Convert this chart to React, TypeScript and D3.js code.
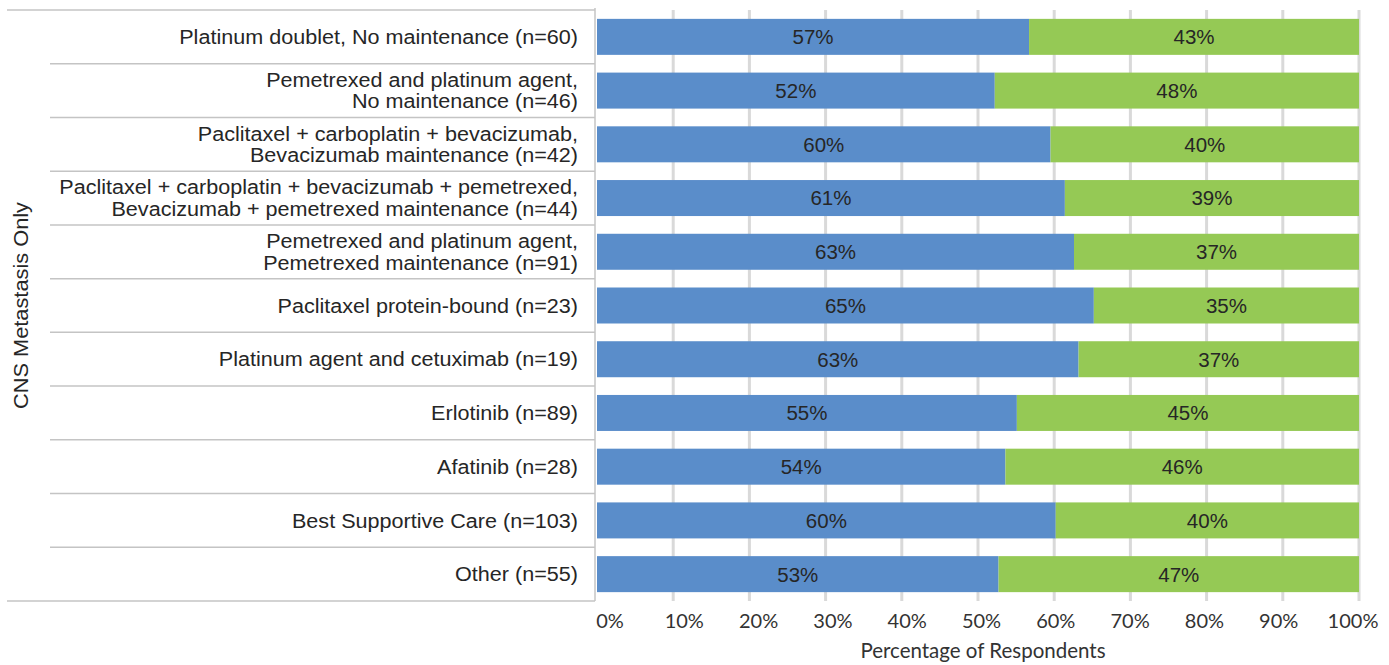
import React from "react";
import * as d3 from "d3";

const categories: string[][] = [
  ["Platinum doublet, No maintenance (n=60)"],
  ["Pemetrexed and platinum agent,", "No maintenance (n=46)"],
  ["Paclitaxel + carboplatin + bevacizumab,", "Bevacizumab maintenance (n=42)"],
  ["Paclitaxel + carboplatin + bevacizumab + pemetrexed,", "Bevacizumab + pemetrexed maintenance (n=44)"],
  ["Pemetrexed and platinum agent,", "Pemetrexed maintenance (n=91)"],
  ["Paclitaxel protein-bound (n=23)"],
  ["Platinum agent and cetuximab (n=19)"],
  ["Erlotinib (n=89)"],
  ["Afatinib (n=28)"],
  ["Best Supportive Care (n=103)"],
  ["Other (n=55)"],
];
const blueValues = [56.7, 52.2, 59.52, 61.4, 62.6, 65.2, 63.2, 55.1, 53.6, 60.2, 52.7];
const greenValues = [43.3, 47.8, 40.48, 38.6, 37.4, 34.8, 36.8, 44.9, 46.4, 39.8, 47.3];
const tickValues = [0, 10, 20, 30, 40, 50, 60, 70, 80, 90, 100];
const yTitle = "CNS Metastasis Only";
const xTitle = "Percentage of Respondents";

export default function App() {
  const W = 1389, H = 665;
  const left = 597, right = 1359, top = 10, bottom = 601;
  const x = d3.scaleLinear().domain([0, 100]).range([left, right]);
  const idx = categories.map((_, i) => i);
  const yRow = d3.scaleBand<number>().domain(idx).range([top, bottom]).padding(0);
  const yBar = d3.scaleBand<number>().domain(idx).range([top, bottom]).paddingInner(0.33).paddingOuter(0.165);
  const fmt = (v: number) => Math.round(v) + "%";
  const catFont = "Arial, 'Liberation Sans', sans-serif";
  const tickFont = "Lato, 'Open Sans', sans-serif";
  return (
    <svg width={W} height={H} style={{ position: "absolute", left: 0, top: 0, background: "#fff" }}>
      {tickValues.slice(1).map((t) => (
        <line key={t} x1={x(t)} x2={x(t)} y1={top} y2={bottom} stroke="#d9d9d9" strokeWidth={3} />
      ))}
      {idx.map((i) => (
        <line key={"s" + i} x1={i === 0 ? 7 : 50} x2={595} y1={yRow(i)!} y2={yRow(i)!} stroke="#c4c4c4" strokeWidth={1.5} />
      ))}
      <line x1={7} x2={595} y1={bottom} y2={bottom} stroke="#c4c4c4" strokeWidth={1.5} />
      <line x1={595} x2={595} y1={top - 2} y2={bottom} stroke="#c4c4c4" strokeWidth={1.5} />
      {idx.map((i) => (
        <g key={"b" + i}>
          <rect x={x(0)} y={yBar(i)!} width={x(blueValues[i]) - x(0)} height={yBar.bandwidth()} fill="#5a8dca" />
          <rect x={x(blueValues[i])} y={yBar(i)!} width={x(blueValues[i] + greenValues[i]) - x(blueValues[i])} height={yBar.bandwidth()} fill="#95c955" />
          <text x={(x(0) + x(blueValues[i])) / 2} y={yBar(i)! + yBar.bandwidth() / 2} dy="0.36em" textAnchor="middle" fontFamily={catFont} fontSize={20.5} fill="#262626">{fmt(blueValues[i])}</text>
          <text x={(x(blueValues[i]) + x(blueValues[i] + greenValues[i])) / 2} y={yBar(i)! + yBar.bandwidth() / 2} dy="0.36em" textAnchor="middle" fontFamily={catFont} fontSize={20.5} fill="#262626">{fmt(greenValues[i])}</text>
        </g>
      ))}
      {categories.map((lines, i) => {
        const cy = yRow(i)! + yRow.bandwidth() / 2;
        const lh = 21.5;
        return (
          <g key={"c" + i} transform="translate(578,0) scale(1.09,1)">
            {lines.map((ln, j) => (
              <text key={j} x={0} y={cy + (j - (lines.length - 1) / 2) * lh} dy="0.36em" textAnchor="end" fontFamily={catFont} fontSize={19.8} fill="#262626">{ln}</text>
            ))}
          </g>
        );
      })}
      {tickValues.map((t) => (
        <text key={"t" + t} x={x(t) + 13 - 0.19 * t} y={621} dy="0.36em" textAnchor="middle" fontFamily={tickFont} fontSize={20} fill="#333">{t + "%"}</text>
      ))}
      <text x={983} y={651} dy="0.36em" textAnchor="middle" fontFamily={tickFont} fontSize={20.5} fill="#333">{xTitle}</text>
      <text transform={`translate(21,${(top + bottom) / 2}) rotate(-90) scale(1.09,1)`} textAnchor="middle" dy="0.36em" fontFamily={catFont} fontSize={20} fill="#262626">{yTitle}</text>
    </svg>
  );
}
